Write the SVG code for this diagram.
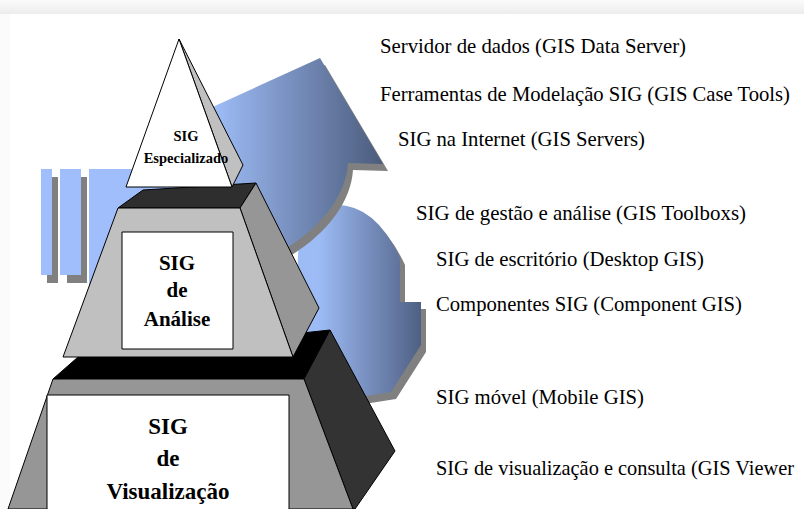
<svg xmlns="http://www.w3.org/2000/svg" width="804" height="509" viewBox="0 0 804 509">
  <defs>
    <linearGradient id="gUp" gradientUnits="userSpaceOnUse" x1="215" y1="0" x2="385" y2="0">
      <stop offset="0" stop-color="#9dbcf6"/>
      <stop offset="1" stop-color="#4a5a7a"/>
    </linearGradient>
    <linearGradient id="gLow" gradientUnits="userSpaceOnUse" x1="318" y1="0" x2="424" y2="0">
      <stop offset="0" stop-color="#9dbcf6"/>
      <stop offset="1" stop-color="#4d5d80"/>
    </linearGradient>
    <linearGradient id="gTop" x1="0" y1="0" x2="0" y2="1">
      <stop offset="0" stop-color="#fbfbfb"/>
      <stop offset="1" stop-color="#ececec"/>
    </linearGradient>
    <linearGradient id="gLeft" x1="0" y1="0" x2="1" y2="0">
      <stop offset="0" stop-color="#fbfbfb"/>
      <stop offset="1" stop-color="#efefef"/>
    </linearGradient>
  </defs>
  <style>
    .edge { stroke: #000; stroke-width: 1; stroke-linejoin: round; }
    .shadow { fill: #808080; }
    .bar { fill: #a0bdfc; }
    text { font-family: 'Liberation Serif', 'DejaVu Serif', serif; }
    .lbl { font-size: 21px; fill: #000; }
    .pl { font-weight: bold; fill: #000; text-anchor: middle; }
  </style>

  <!-- background card -->
  <rect x="0" y="0" width="804" height="509" fill="url(#gLeft)"/>
  <rect x="0" y="0" width="804" height="14" fill="url(#gTop)"/>
  <rect x="10" y="14" width="794" height="495" fill="#ffffff"/>

  <!-- striped bars on the left -->
  <g id="bars">
    <rect class="shadow" x="47" y="177" width="11" height="106"/>
    <rect class="shadow" x="67" y="177" width="20" height="106"/>
    <rect class="bar" x="41" y="169" width="11" height="106"/>
    <rect class="bar" x="60" y="169" width="21" height="106"/>
    <rect class="bar" x="89" y="169" width="100" height="120"/>
  </g>

  <!-- lower curved arrow -->
  <g id="arrow-lower">
    <path class="shadow" transform="translate(5,7)" d="M300,215 Q365,182 400,258 L400,302 L421,302 L421,345 L391,392 L340,400 L295,320 Z"/>
    <path fill="url(#gLow)" d="M300,215 Q365,182 400,258 L400,302 L421,302 L421,345 L391,392 L340,400 L295,320 Z"/>
  </g>

  <!-- upper curved arrow -->
  <g id="arrow-upper">
    <path class="shadow" transform="translate(5,7)" d="M195,115 L320,58 L383,164 L348,163 C346,195 322,228 280,252 L230,200 Z"/>
    <path fill="url(#gUp)" d="M195,115 L320,58 L383,164 L348,163 C346,195 322,228 280,252 L230,200 Z"/>
  </g>

  <!-- bottom tier -->
  <g id="tier-bottom">
    <polygon class="edge" fill="#000000" points="53,379 78,357 330,330 304,379"/>
    <polygon class="edge" fill="#333333" points="304,379 330,330 395,451 355,509 353,509"/>
    <polygon class="edge" fill="#969696" points="53,379 304,379 353,509 8,509"/>
    <rect class="edge" x="47" y="395" width="242" height="120" fill="#ffffff"/>
    <text class="pl" x="168" y="434" font-size="23" font-family="'Liberation Serif', serif">SIG</text>
    <text class="pl" x="168" y="466" font-size="23" font-family="'Liberation Serif', serif">de</text>
    <text class="pl" x="168" y="499" font-size="23" font-family="'Liberation Serif', serif">Visualização</text>
  </g>

  <!-- middle tier -->
  <g id="tier-middle">
    <polygon class="edge" fill="#2e2e2e" points="118,208 143,190 256,183 240,208"/>
    <polygon class="edge" fill="#969696" points="240,208 256,183 319,308 293,357"/>
    <polygon class="edge" fill="#c0c0c0" points="118,208 240,208 293,357 63,357"/>
    <rect class="edge" x="122" y="232" width="111" height="117" fill="#ffffff"/>
    <text class="pl" x="177" y="270" font-size="21" font-family="'Liberation Serif', serif">SIG</text>
    <text class="pl" x="177" y="297" font-size="21" font-family="'Liberation Serif', serif">de</text>
    <text class="pl" x="177" y="326" font-size="21" font-family="'Liberation Serif', serif">Análise</text>
  </g>

  <!-- top tier -->
  <g id="tier-top">
    <polygon class="edge" fill="#c0c0c0" points="179,39 243,165 232,187"/>
    <polygon class="edge" fill="#ffffff" points="179,39 232,187 126,187"/>
    <text class="pl" x="186" y="141" font-size="14.5" font-family="'Liberation Serif', serif">SIG</text>
    <text class="pl" x="186" y="163" font-size="14.5" font-family="'Liberation Serif', serif">Especializado</text>
  </g>

  <!-- labels -->
  <g id="labels">
    <text class="lbl" x="380" y="53" textLength="306" lengthAdjust="spacingAndGlyphs" font-family="'Liberation Serif', serif">Servidor de dados (GIS Data Server)</text>
    <text class="lbl" x="380" y="101" font-size="20.5" textLength="410" lengthAdjust="spacingAndGlyphs" font-family="'Liberation Serif', serif">Ferramentas de Modelação SIG (GIS Case Tools)</text>
    <text class="lbl" x="398" y="146" textLength="247" lengthAdjust="spacingAndGlyphs" font-family="'Liberation Serif', serif">SIG na Internet (GIS Servers)</text>
    <text class="lbl" x="416" y="220" textLength="330" lengthAdjust="spacingAndGlyphs" font-family="'Liberation Serif', serif">SIG de gestão e análise (GIS Toolboxs)</text>
    <text class="lbl" x="436" y="266" textLength="268" lengthAdjust="spacingAndGlyphs" font-family="'Liberation Serif', serif">SIG de escritório (Desktop GIS)</text>
    <text class="lbl" x="436" y="311" textLength="306" lengthAdjust="spacingAndGlyphs" font-family="'Liberation Serif', serif">Componentes SIG (Component GIS)</text>
    <text class="lbl" x="436" y="404" textLength="208" lengthAdjust="spacingAndGlyphs" font-family="'Liberation Serif', serif">SIG móvel (Mobile GIS)</text>
    <text class="lbl" x="436" y="475" font-size="20.5" textLength="358" lengthAdjust="spacingAndGlyphs" font-family="'Liberation Serif', serif">SIG de visualização e consulta (GIS Viewer</text>
  </g>
</svg>
